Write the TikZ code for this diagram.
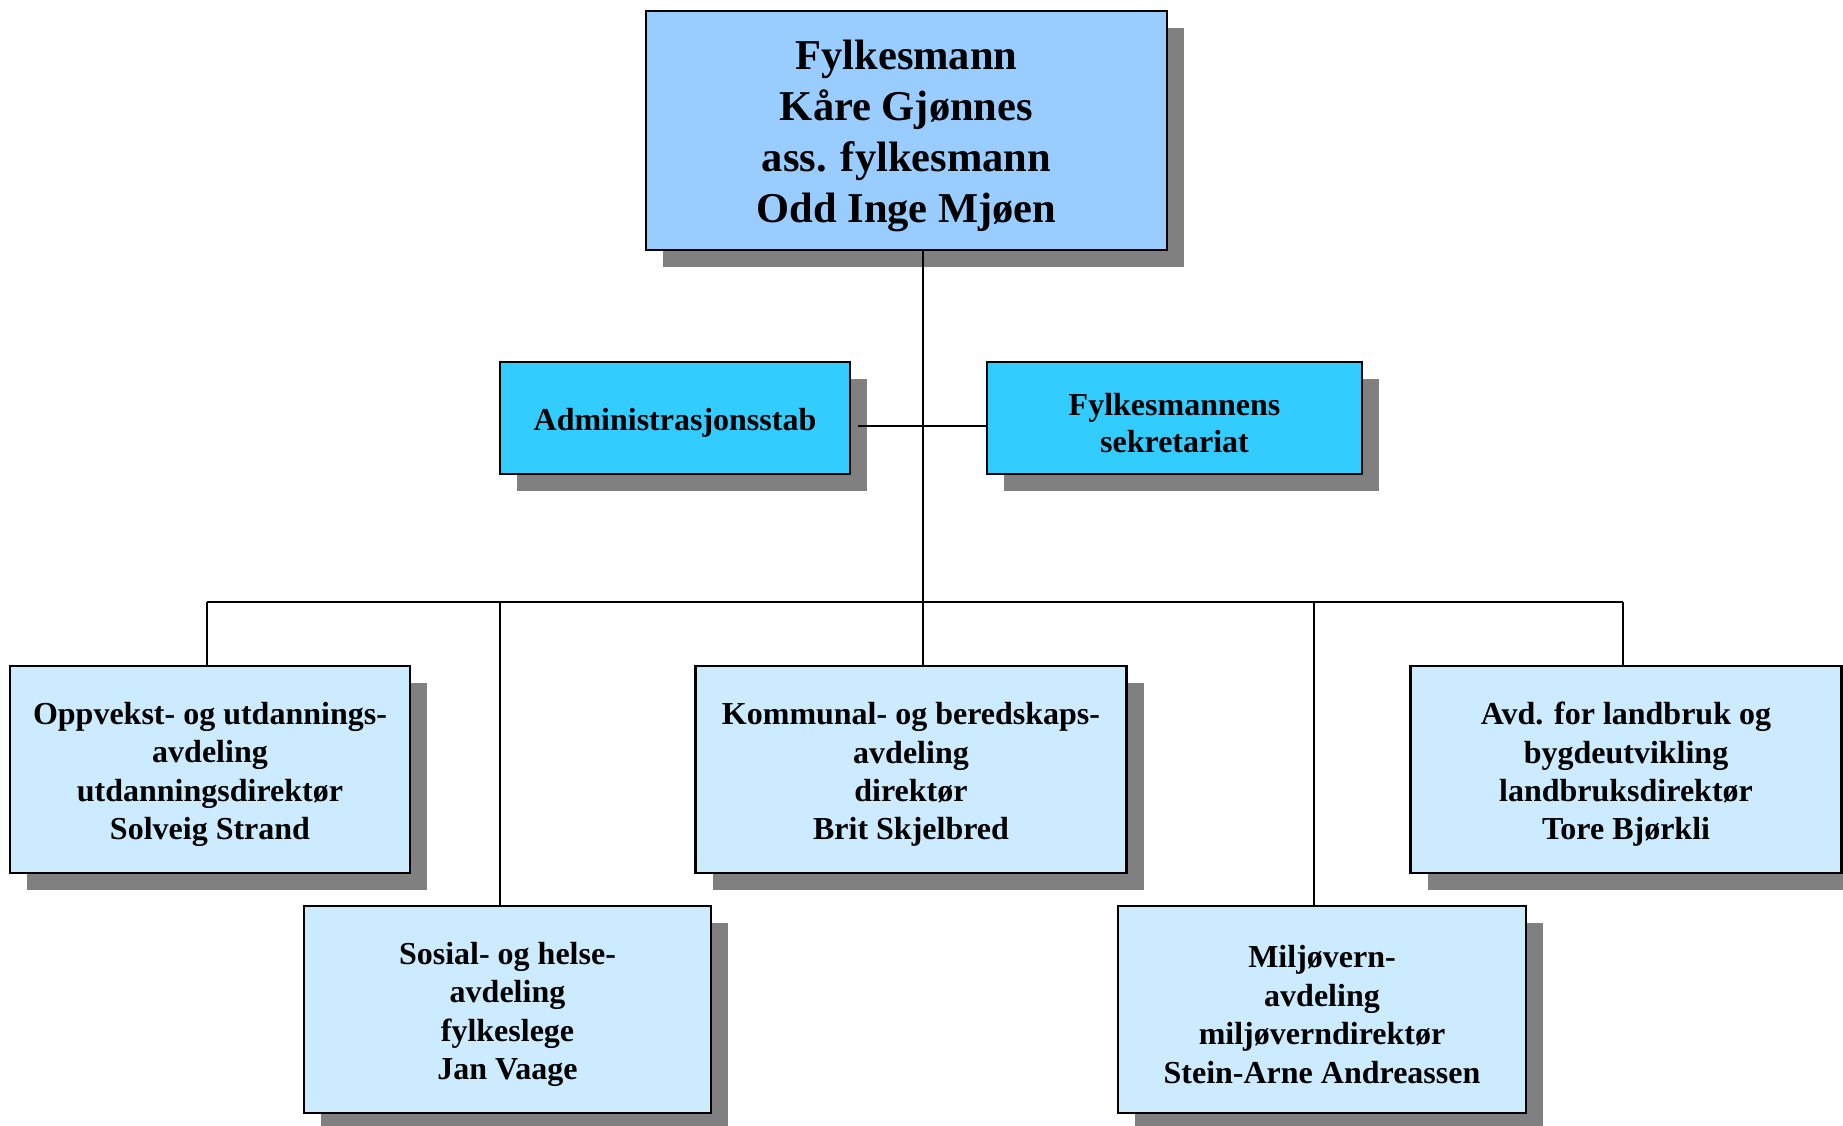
\documentclass[tikz,border=0pt]{standalone}
\usepackage{fontspec}
\setmainfont{Liberation Serif}
\usetikzlibrary{shadows}
\definecolor{topc}{HTML}{99CCFF}
\definecolor{midc}{HTML}{33CCFF}
\definecolor{botc}{HTML}{CCEBFF}
\begin{document}
\begin{tikzpicture}[x=1pt,y=-1pt,
  box/.style={draw=black, line width=2.4pt, inner sep=0pt,
    drop shadow={shadow xshift=17pt, shadow yshift=-17pt, fill=black!50, opacity=1}},
  txt/.style={align=center, inner sep=0pt, yshift=-5pt, font=\bfseries\fontsize{32}{38.4}\selectfont},
  toptxt/.style={txt, font=\bfseries\fontsize{42.5}{51}\selectfont},
  sektxt/.style={txt, font=\bfseries\fontsize{32}{37.6}\selectfont},
  topbox/.style={box, fill=topc},
  midbox/.style={box, fill=midc, minimum height=112pt},
  botbox/.style={box, fill=botc, minimum height=207pt},
  conn/.style={draw=black, line width=2pt}]
\useasboundingbox (0,0) rectangle (1843,1126);
\clip (0,0) rectangle (1843,1126);
\fill[white] (0,0) rectangle (1843,1126);

\node[topbox, minimum width=521pt, minimum height=239pt,
  label={[toptxt]center:{Fylkesmann\\Kåre Gjønnes\\ass. fylkesmann\\Odd Inge Mjøen}}] (top) at (906.5,130.5) {};
\node[midbox, minimum width=350pt,
  label={[txt]center:{Administrasjonsstab}}] (adm) at (675,418) {};
\node[midbox, minimum width=375pt,
  label={[sektxt]center:{Fylkesmannens\\sekretariat}}] (sek) at (1174.5,418) {};
\node[botbox, minimum width=400pt,
  label={[txt]center:{Oppvekst- og utdannings-\\avdeling\\utdanningsdirektør\\Solveig Strand}}] (opp) at (210,769.5) {};
\node[botbox, minimum width=431pt,
  label={[txt]center:{Kommunal- og beredskaps-\\avdeling\\direktør\\Brit Skjelbred}}] (kom) at (911,769.5) {};
\node[botbox, minimum width=431pt,
  label={[txt]center:{Avd. for landbruk og\\bygdeutvikling\\landbruksdirektør\\Tore Bjørkli}}] (avd) at (1626,769.5) {};
\node[botbox, minimum width=407pt,
  label={[txt]center:{Sosial- og helse-\\avdeling\\fylkeslege\\Jan Vaage}}] (sos) at (507.5,1009.5) {};
\node[botbox, minimum width=408pt,
  label={[txt]center:{Miljøvern-\\avdeling\\miljøverndirektør\\Stein-Arne Andreassen}}] (mil) at (1322,1009.5) {};

\coordinate (tr) at (922.7,602);
\coordinate (bl) at (207,602);
\coordinate (b2) at (499.5,602);
\coordinate (b4) at (1313.5,602);
\coordinate (br) at (1623,602);
\coordinate (admr) at (858,426);

\draw[conn] (tr |- top.south) -- (tr);
\draw[conn] (admr) -- (admr -| sek.west);
\draw[conn] (bl) -- (br);
\draw[conn] (bl) -- (bl |- opp.north);
\draw[conn] (b2) -- (b2 |- sos.north);
\draw[conn] (tr) -- (tr |- kom.north);
\draw[conn] (b4) -- (b4 |- mil.north);
\draw[conn] (br) -- (br |- avd.north);
\end{tikzpicture}
\end{document}
